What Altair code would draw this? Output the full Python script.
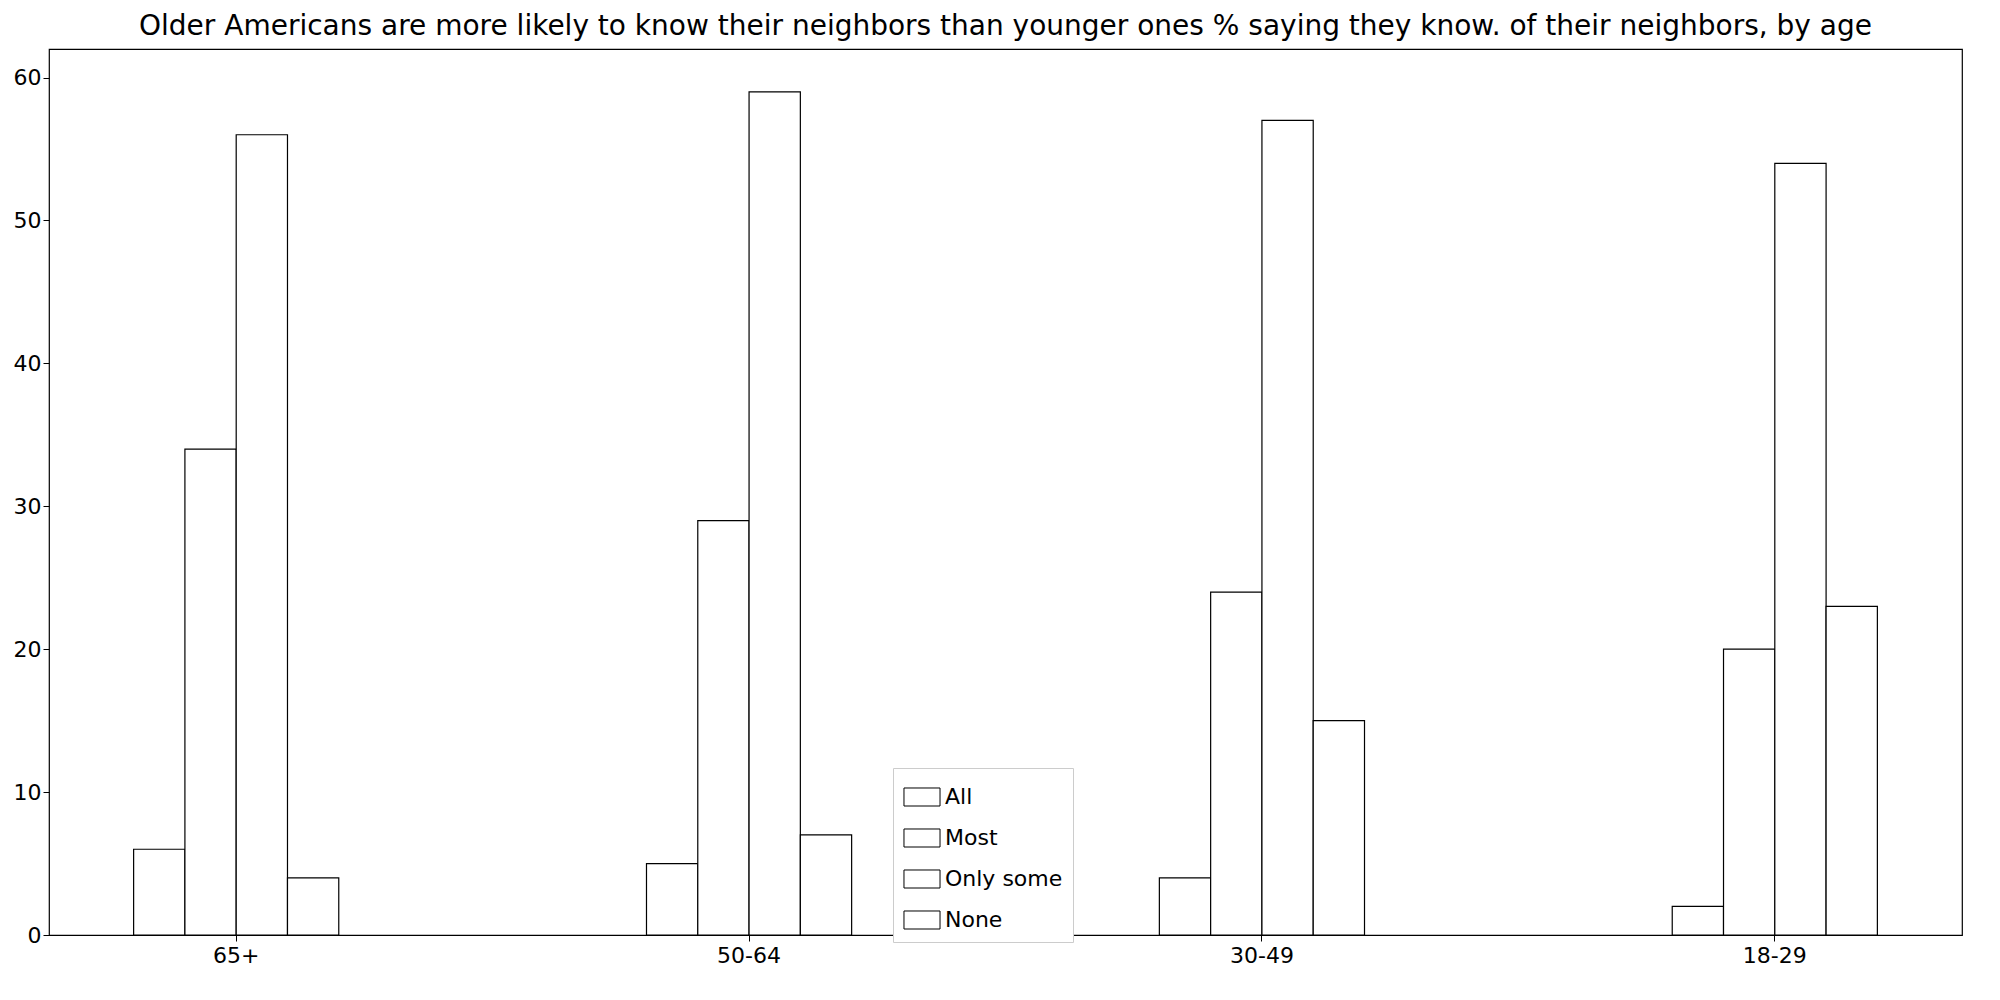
import altair as alt
import pandas as pd

ages = ["65+", "50-64", "30-49", "18-29"]
groups = ["All", "Most", "Only some", "None"]
all_vals = [6, 5, 4, 2]
most_vals = [34, 29, 24, 20]
some_vals = [56, 59, 57, 54]
none_vals = [4, 7, 15, 23]

rows = []
for i, age in enumerate(ages):
    for g, vals in zip(groups, [all_vals, most_vals, some_vals, none_vals]):
        rows.append({"age": age, "group": g, "value": vals[i]})
df = pd.DataFrame(rows)

chart = alt.Chart(df).mark_bar(stroke="black", strokeWidth=1.2, opacity=1).encode(
    x=alt.X("age:N", sort=ages, title=None,
            scale=alt.Scale(paddingInner=0.6, paddingOuter=0.165),
            axis=alt.Axis(labelAngle=0, labelFontSize=22, labelColor="black",
                          tickColor="black", tickSize=6, domain=False, labelPadding=4)),
    xOffset=alt.XOffset("group:N", sort=groups, scale=alt.Scale(paddingInner=0)),
    y=alt.Y("value:Q", title=None, scale=alt.Scale(domain=[0, 62], nice=False),
            axis=alt.Axis(values=[0, 10, 20, 30, 40, 50, 60], grid=False, labelFontSize=22,
                          labelColor="black", tickColor="black", tickSize=6, domain=False)),
    color=alt.Color("group:N", sort=groups,
                    scale=alt.Scale(domain=groups, range=["white"] * 4),
                    legend=alt.Legend(title=None, orient="none", legendX=844, legendY=719,
                                      labelFontSize=22, symbolType="M-1,-0.5H1V0.5H-1Z",
                                      symbolSize=1300, symbolStrokeColor="black",
                                      symbolStrokeWidth=1, fillColor="white",
                                      strokeColor="#cccccc", padding=10, rowPadding=10)),
).properties(
    width=1913, height=886,
    title=alt.TitleParams("Older Americans are more likely to know their neighbors than younger ones % saying they know. of their neighbors, by age",
                          fontSize=28, fontWeight="normal", color="black", offset=8),
).configure(font="DejaVu Sans", view=alt.ViewConfig(stroke="black", strokeWidth=1.2))

chart.save("out.html", embed_options={"renderer": "svg", "actions": False})
